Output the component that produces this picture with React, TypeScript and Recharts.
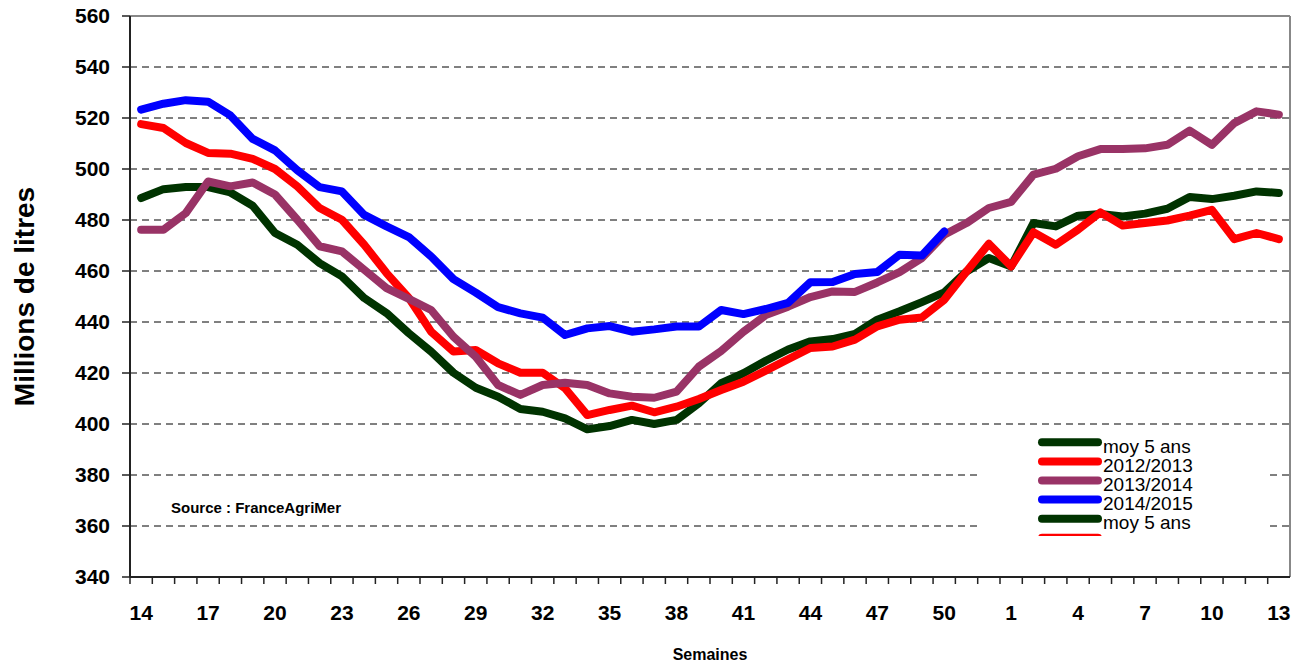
import React from 'react';
import {
  LineChart,
  Line,
  XAxis,
  YAxis,
  CartesianGrid,
  Legend,
  Label,
  ReferenceLine,
} from 'recharts';

// weeks of the campaign (week 14 to week 13 of the following year)
const weeks = [
  14, 15, 16, 17, 18, 19, 20, 21, 22, 23, 24, 25, 26, 27, 28, 29, 30, 31, 32, 33,
  34, 35, 36, 37, 38, 39, 40, 41, 42, 43, 44, 45, 46, 47, 48, 49, 50, 51, 52,
  1, 2, 3, 4, 5, 6, 7, 8, 9, 10, 11, 12, 13,
];

const moy5Ans = [
  488.6, 492.1, 492.9, 492.9, 490.8, 485.6, 474.9, 470.3, 463.1, 457.9, 449.4, 443.5, 435.6,
  428.4, 420.1, 414.2, 410.7, 405.9, 404.8, 402.2, 397.9, 399.2, 401.6, 400.0, 401.6, 408.1,
  416.0, 419.9, 424.8, 429.2, 432.4, 433.3, 435.3, 440.9, 444.2, 447.8, 451.6, 459.8, 465.1,
  461.8, 478.8, 477.5, 481.7, 482.4, 481.4, 482.5, 484.4, 489.0, 488.2, 489.5, 491.2, 490.6,
];

const c2012 = [
  517.6, 516.1, 510.2, 506.3, 506.0, 504.0, 500.0, 493.2, 484.7, 480.1, 470.3, 459.2, 449.4,
  436.2, 428.4, 429.0, 423.8, 420.1, 420.1, 414.0, 403.5, 405.5, 407.2, 404.6, 406.8, 409.8,
  413.3, 416.6, 420.9, 425.4, 429.8, 430.4, 433.1, 438.3, 440.9, 441.8, 448.7, 459.8, 470.7,
  461.8, 475.2, 470.3, 476.2, 483.0, 477.8, 478.8, 479.8, 481.7, 484.0, 472.5, 474.9, 472.5,
];

const c2013 = [
  476.2, 476.2, 482.7, 495.1, 493.2, 494.7, 490.0, 480.1, 469.7, 467.7, 460.5, 453.3, 449.1,
  444.7, 434.2, 426.4, 415.3, 411.4, 415.3, 416.2, 415.3, 412.0, 410.7, 410.3, 412.7, 422.5,
  428.6, 436.2, 442.7, 446.0, 449.8, 452.0, 451.8, 455.5, 459.6, 465.1, 474.2, 478.8, 484.7,
  487.1, 497.8, 500.1, 505.0, 507.8, 507.8, 508.1, 509.5, 515.1, 509.5, 518.0, 522.6, 521.3,
];

// current campaign, known up to week 50
const c2014 = [
  523.3, 525.6, 527.0, 526.4, 521.0, 511.8, 507.3, 499.5, 492.9, 491.2, 482.0, 477.5, 473.3,
  465.7, 456.8, 451.5, 445.8, 443.4, 441.7, 434.9, 437.5, 438.4, 436.2, 437.1, 438.2, 438.2,
  444.7, 443.1, 445.1, 447.5, 455.6, 455.7, 458.8, 459.6, 466.4, 466.1, 475.5,
];

const yTicks = [340, 360, 380, 400, 420, 440, 460, 480, 500, 520, 540, 560];

const series = [
  { key: 'moy', name: 'moy 5 ans', color: '#003300' },
  { key: 'c2012', name: '2012/2013', color: '#FF0000' },
  { key: 'c2013', name: '2013/2014', color: '#993366' },
  { key: 'c2014', name: '2014/2015', color: '#0000FF' },
];

// the legend box repeats its first entries and is cut at the bottom
const legendRows = [...series, series[0], series[1]];

const data = weeks.map((w, i) => ({
  idx: i,
  week: w,
  moy: moy5Ans[i],
  c2012: c2012[i],
  c2013: c2013[i],
  c2014: i < c2014.length ? c2014[i] : null,
}));

const FONT = 'Arial, "Liberation Sans", sans-serif';
const CHART_W = 1293;
const CHART_H = 666;
const PLOT_LEFT = 130;
const PLOT_RIGHT = 1290;
const BAND = (PLOT_RIGHT - PLOT_LEFT) / weeks.length;

function WeekTick(props: any) {
  const { x, y, index, payload } = props;
  const edge = x - BAND / 2;
  return (
    <g>
      <line x1={edge} x2={edge} y1={y} y2={y + 7} stroke="#222" strokeWidth={1.5} />
      {index % 3 === 0 && (
        <text
          x={x}
          y={y + 43}
          textAnchor="middle"
          fontFamily={FONT}
          fontSize={21}
          fontWeight="bold"
          fill="#000"
        >
          {weeks[payload.value]}
        </text>
      )}
    </g>
  );
}

function LegendBox() {
  return (
    <div style={{ width: 290, height: 106, background: '#fff', overflow: 'hidden' }}>
      <svg width={290} height={106}>
        {legendRows.map((s, i) => (
          <g key={i}>
            <line
              x1={65}
              x2={121}
              y1={12.3 + i * 19.1}
              y2={12.3 + i * 19.1}
              stroke={s.color}
              strokeWidth={8}
              strokeLinecap="round"
            />
            <text x={126} y={23 + i * 19.1} fontFamily={FONT} fontSize={19} fill="#000">
              {s.name}
            </text>
          </g>
        ))}
      </svg>
    </div>
  );
}

export default function App() {
  return (
    <div style={{ position: 'absolute', left: 0, top: 0, width: CHART_W, height: CHART_H, background: '#fff' }}>
      <LineChart
        width={CHART_W}
        height={CHART_H}
        data={data}
        margin={{ top: 16, right: CHART_W - PLOT_RIGHT, bottom: 0, left: 0 }}
      >
        <CartesianGrid
          xAxisId="b"
          yAxisId="l"
          vertical={false}
          stroke="#000"
          strokeDasharray="7 5"
        />
        <XAxis
          xAxisId="b"
          dataKey="idx"
          type="number"
          domain={[-0.5, weeks.length - 0.5]}
          ticks={weeks.map((_, i) => i)}
          interval={0}
          height={CHART_H - 577}
          tickSize={0}
          tickMargin={0}
          tickLine={false}
          axisLine={{ stroke: '#222', strokeWidth: 2 }}
          tick={(p: any) => <WeekTick {...p} />}
        >
          <Label
            value="Semaines"
            position="insideBottom"
            offset={6}
            fontFamily={FONT}
            fontSize={16}
            fontWeight="bold"
            fill="#000"
          />
        </XAxis>
        <YAxis
          yAxisId="l"
          domain={[340, 560]}
          ticks={yTicks}
          interval={0}
          width={PLOT_LEFT}
          tickSize={8}
          tickMargin={12}
          axisLine={{ stroke: '#222', strokeWidth: 2 }}
          tickLine={{ stroke: '#222', strokeWidth: 1.5 }}
          tick={{ fill: '#000', fontSize: 21, fontWeight: 'bold', fontFamily: FONT }}
        >
          <Label
            value="Millions de litres"
            angle={-90}
            position="insideLeft"
            offset={24}
            textAnchor="middle"
            fontFamily={FONT}
            fontSize={28}
            fontWeight="bold"
            fill="#000"
          />
        </YAxis>
        {/* plot border on top and right */}
        <ReferenceLine xAxisId="b" yAxisId="l" y={560} stroke="#888" strokeWidth={2} />
        <ReferenceLine xAxisId="b" yAxisId="l" x={weeks.length - 0.5} stroke="#888" strokeWidth={2} />
        {series.map((s) => (
          <Line
            key={s.key}
            xAxisId="b"
            yAxisId="l"
            type="linear"
            dataKey={s.key}
            name={s.name}
            stroke={s.color}
            strokeWidth={8}
            strokeLinejoin="round"
            strokeLinecap="round"
            dot={false}
            activeDot={false}
            isAnimationActive={false}
          />
        ))}
        <Legend
          layout="vertical"
          align="center"
          verticalAlign="middle"
          content={() => <LegendBox />}
          wrapperStyle={{ left: 977, top: 430, width: 290, height: 106 }}
        />
      </LineChart>
      <div
        style={{
          position: 'absolute',
          left: 171,
          top: 500,
          fontFamily: FONT,
          fontSize: 15,
          fontWeight: 'bold',
          lineHeight: '15px',
          color: '#000',
          whiteSpace: 'nowrap',
        }}
      >
        Source : FranceAgriMer
      </div>
    </div>
  );
}
